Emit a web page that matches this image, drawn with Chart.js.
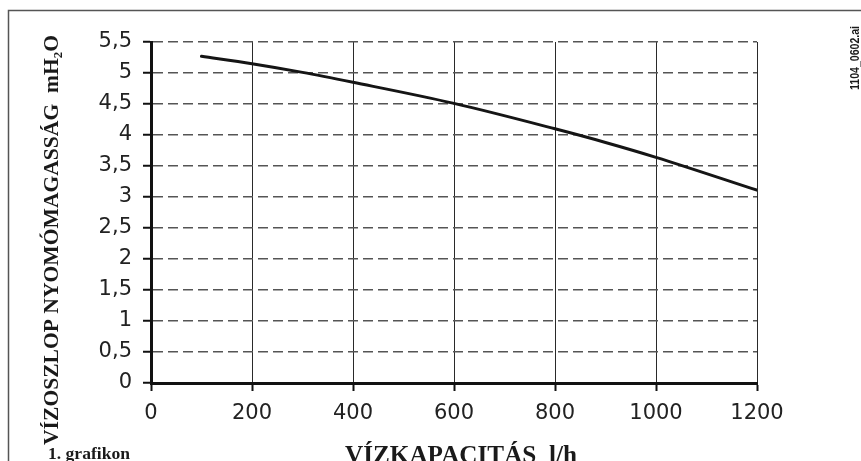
<!DOCTYPE html>
<html>
<head>
<meta charset="utf-8">
<script src="https://cdn.jsdelivr.net/npm/chart.js@4"></script>
<style>
  html, body { margin: 0; padding: 0; background: #ffffff; }
  #wrap { width: 861px; height: 461px; position: relative; overflow: hidden; }
</style>
</head>
<body>
<div id="wrap"><canvas id="c" width="861" height="461"></canvas></div>
<script>
// ---- data ----
const flowLh = [100, 200, 300, 400, 600, 800, 900, 1000, 1200];
const headM  = [5.27, 5.15, 5.01, 4.85, 4.51, 4.10, 3.88, 3.64, 3.11];
const xTicks = [0, 200, 400, 600, 800, 1000, 1200];
const yTicks = [0, 0.5, 1, 1.5, 2, 2.5, 3, 3.5, 4, 4.5, 5, 5.5];
const yTitleMain = 'VÍZOSZLOP NYOMÓMAGASSÁG  mH';
const yTitleSub = '2';
const yTitleEnd = 'O';
const xTitle = 'VÍZKAPACITÁS  l/h';
const captionText = '1. grafikon';
const fileTag = '1104_0602.ai';

const points = flowLh.map((x, i) => ({ x: x, y: headM[i] }));

function fmtComma(v) { return String(v).replace('.', ','); }

const decor = {
  id: 'decor',
  beforeDraw(chart) {
    const ctx = chart.ctx;
    ctx.save();
    ctx.fillStyle = '#ffffff';
    ctx.fillRect(0, 0, chart.width, chart.height);
    ctx.restore();
  },
  afterDraw(chart) {
    const ctx = chart.ctx;
    ctx.save();
    // frame
    ctx.strokeStyle = '#555555';
    ctx.lineWidth = 1.5;
    ctx.beginPath();
    ctx.moveTo(8.5, 470);
    ctx.lineTo(8.5, 10.5);
    ctx.lineTo(870, 10.5);
    ctx.stroke();

    // y-axis title (rotated, reading bottom to top)
    const bigFont = 'bold 22px "Liberation Serif", "Times New Roman", serif';
    const subFont = 'bold 13px "Liberation Serif", "Times New Roman", serif';
    ctx.font = bigFont;
    const w1 = ctx.measureText(yTitleMain).width;
    const w3 = ctx.measureText(yTitleEnd).width;
    ctx.font = subFont;
    const w2 = ctx.measureText(yTitleSub).width;
    const total = w1 + w2 + w3;
    const target = 410;
    const sx = target / total;
    const cy = 240;
    ctx.save();
    ctx.translate(58, cy);
    ctx.rotate(-Math.PI / 2);
    ctx.scale(sx, 1);
    ctx.fillStyle = '#1a1a1a';
    ctx.textBaseline = 'alphabetic';
    ctx.textAlign = 'left';
    let x0 = -total / 2;
    ctx.font = bigFont;
    ctx.fillText(yTitleMain, x0, 0);
    ctx.font = subFont;
    ctx.fillText(yTitleSub, x0 + w1, 4);
    ctx.font = bigFont;
    ctx.fillText(yTitleEnd, x0 + w1 + w2, 0);
    ctx.restore();

    // x-axis title
    ctx.save();
    ctx.font = 'bold 25px "Liberation Serif", "Times New Roman", serif';
    const xw = ctx.measureText(xTitle).width;
    const xs = 232 / xw;
    ctx.translate(461, 463);
    ctx.scale(xs, 1);
    ctx.fillStyle = '#1a1a1a';
    ctx.textAlign = 'center';
    ctx.textBaseline = 'alphabetic';
    ctx.fillText(xTitle, 0, 0);
    ctx.restore();

    // caption
    ctx.save();
    ctx.font = 'bold 17px "Liberation Serif", "Times New Roman", serif';
    const cw = ctx.measureText(captionText).width;
    ctx.translate(48, 459);
    ctx.scale(82 / cw, 1);
    ctx.fillStyle = '#1a1a1a';
    ctx.textAlign = 'left';
    ctx.fillText(captionText, 0, 0);
    ctx.restore();

    // file tag (rotated)
    ctx.save();
    ctx.font = 'bold 12px "Liberation Sans", Arial, sans-serif';
    const fw = ctx.measureText(fileTag).width;
    ctx.translate(859, 58);
    ctx.rotate(-Math.PI / 2);
    ctx.scale(64 / fw, 1);
    ctx.fillStyle = '#1a1a1a';
    ctx.textAlign = 'center';
    ctx.fillText(fileTag, 0, 0);
    ctx.restore();

    ctx.restore();
  }
};

new Chart(document.getElementById('c'), {
  type: 'line',
  data: {
    datasets: [{
      data: points,
      borderColor: '#151515',
      borderWidth: 3,
      pointRadius: 0,
      fill: false,
      cubicInterpolationMode: 'monotone',
      borderCapStyle: 'round'
    }]
  },
  options: {
    responsive: false,
    animation: false,
    devicePixelRatio: 1,
    layout: { padding: { left: 0, right: 104, top: 42, bottom: 0 } },
    plugins: {
      legend: { display: false },
      tooltip: { enabled: false },
      title: { display: false }
    },
    scales: {
      x: {
        type: 'linear',
        min: 0, max: 1200,
        afterFit(scale) { scale.height = 78; },
        afterBuildTicks(scale) { scale.ticks = xTicks.map(v => ({ value: v })); },
        ticks: {
          color: '#222222',
          font: { family: '"DejaVu Sans", Verdana, sans-serif', size: 21 },
          padding: 10,
          maxRotation: 0,
          autoSkip: false,
          callback: v => String(v)
        },
        grid: { color: '#2a2a2a', lineWidth: 1, tickLength: 8, tickColor: '#111111', tickWidth: 2 },
        border: { display: true, color: '#111111', width: 3 }
      },
      y: {
        type: 'linear',
        min: 0, max: 5.5,
        afterFit(scale) { scale.width = 151; },
        afterBuildTicks(scale) { scale.ticks = yTicks.map(v => ({ value: v })); },
        ticks: {
          color: '#222222',
          font: { family: '"DejaVu Sans", Verdana, sans-serif', size: 21 },
          padding: 11,
          autoSkip: false,
          callback: v => fmtComma(v)
        },
        grid: { color: '#555555', lineWidth: 1.5, tickLength: 8, tickColor: '#111111', tickWidth: 2 },
        border: { display: true, color: '#111111', width: 3, dash: [10, 5] }
      }
    }
  },
  plugins: [decor]
});
</script>
</body>
</html>
